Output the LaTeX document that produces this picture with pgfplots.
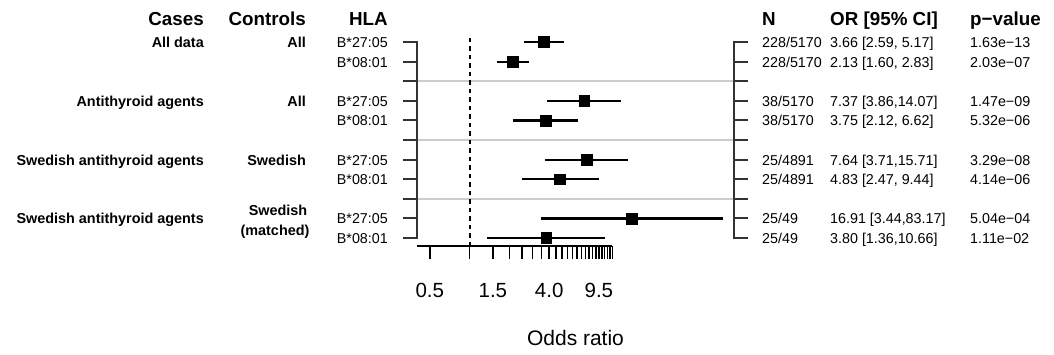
\documentclass[border=0pt]{standalone}
\usepackage{fontspec}
\setmainfont{Liberation Sans}
\usepackage{pgfplots}
\pgfplotsset{compat=1.18}

\definecolor{sepgray}{gray}{0.8}
\definecolor{framegray}{gray}{0.2}

% font sizes
\newcommand\hdr{\fontsize{18.8}{22}\selectfont\bfseries}
\newcommand\rowf{\fontsize{14.3}{16}\selectfont}
\newcommand\rowb{\fontsize{14.4}{16}\selectfont\bfseries}

% baseline of table row #1 (1 = top row), in pt below the top edge
\newcommand\rb[1]{{-(47.5pt+19.6pt*(#1-1))}}

\begin{document}
\begin{tikzpicture}
\useasboundingbox (0,0) rectangle (1054pt,-354pt);

\begin{axis}[
  at={(417pt,-246pt)}, anchor=south west,
  scale only axis, width=317pt, height=204pt,
  xmode=log, xmin=0.4, xmax=100,
  ymin=0.592, ymax=11,
  axis x line*=bottom, axis y line=none,
  x axis line style={draw=none},
  xtick={0.5,1,1.5,2,2.5,3,3.5,4,4.5,5,5.5,6,6.5,7,7.5,8,8.5,9,9.5,10,10.5,11,11.5,12},
  xticklabels={0.5,{},1.5,{},{},{},{},4.0,{},{},{},{},{},{},{},{},{},{},9.5,{},{},{},{},{}},
  minor xtick={},
  tick align=outside, major tick length=13pt,
  xtick style={line width=1.5pt, black},
  xticklabel style={font=\fontsize{20.5}{24}\selectfont, yshift=-21pt},
  xlabel={Odds ratio},
  xlabel style={font=\fontsize{21}{24}\selectfont, at={(axis description cs:0.5,0)}, anchor=base, yshift=-99pt},
  clip=false,
]
% group separators
\addplot[sepgray, line width=1.6pt] coordinates {(0.4,9) (100,9)};
\addplot[sepgray, line width=1.6pt] coordinates {(0.4,6) (100,6)};
\addplot[sepgray, line width=1.6pt] coordinates {(0.4,3) (100,3)};

% line of no effect
\addplot[black, line width=2pt, dash pattern=on 4.5pt off 4pt] coordinates {(1,0.592) (1,11.408)};

% x axis line
\addplot[black, line width=2pt] coordinates {(0.4,0.592) (12,0.592)};

% row brackets on both sides
\draw[framegray, line width=2pt]
  ([xshift=-14pt]axis cs:0.4,11) -- (axis cs:0.4,11) -- (axis cs:0.4,1) -- ([xshift=-14pt]axis cs:0.4,1);
\draw[framegray, line width=2pt]
  ([xshift=14pt]axis cs:100,11) -- (axis cs:100,11) -- (axis cs:100,1) -- ([xshift=14pt]axis cs:100,1);
\pgfplotsinvokeforeach{2,...,10}{
  \draw[framegray, line width=2pt] ([xshift=-14pt]axis cs:0.4,#1) -- (axis cs:0.4,#1);
  \draw[framegray, line width=2pt] ([xshift=14pt]axis cs:100,#1) -- (axis cs:100,#1);
}

% 95% confidence intervals
\addplot[black, line width=2.2pt] coordinates {(2.59,11) (5.17,11)};
\addplot[black, line width=2.2pt] coordinates {(1.60,10) (2.83,10)};
\addplot[black, line width=2.2pt] coordinates {(3.86,8) (14.07,8)};
\addplot[black, line width=2.2pt] coordinates {(2.12,7) (6.62,7)};
\addplot[black, line width=2.2pt] coordinates {(3.71,5) (15.71,5)};
\addplot[black, line width=2.2pt] coordinates {(2.47,4) (9.44,4)};
\addplot[black, line width=2.2pt] coordinates {(3.44,2) (83.17,2)};
\addplot[black, line width=2.2pt] coordinates {(1.36,1) (10.66,1)};

% odds ratios
\addplot[only marks, mark=square*, mark size=5.4pt, black] coordinates {
  (3.66,11) (2.13,10) (7.37,8) (3.75,7) (7.64,5) (4.83,4) (16.91,2) (3.80,1)};
\end{axis}

% column headers
\node[anchor=base east, inner sep=0] at (204pt,-25pt) {\hdr Cases};
\node[anchor=base east, inner sep=0] at (306pt,-25pt) {\hdr Controls};
\node[anchor=base east, inner sep=0] at (388pt,-25pt) {\hdr HLA};
\node[anchor=base west, inner sep=0] at (762pt,-25pt) {\hdr N};
\node[anchor=base west, inner sep=0] at (830pt,-25pt) {\hdr OR [95\% CI]};
\node[anchor=base west, inner sep=0] at (970pt,-25pt) {\hdr p−value};

% cases
\node[anchor=base east, inner sep=0] at (204pt,\rb{1}) {\rowb All data};
\node[anchor=base east, inner sep=0] at (204pt,\rb{4}) {\rowb Antithyroid agents};
\node[anchor=base east, inner sep=0] at (204pt,\rb{7}) {\rowb Swedish antithyroid agents};
\node[anchor=base east, inner sep=0] at (204pt,\rb{10}) {\rowb Swedish antithyroid agents};

% controls
\node[anchor=base east, inner sep=0] at (306pt,\rb{1}) {\rowb All};
\node[anchor=base east, inner sep=0] at (306pt,\rb{4}) {\rowb All};
\node[anchor=base east, inner sep=0] at (306pt,\rb{7}) {\rowb Swedish};
\node[anchor=base, inner sep=0] at (278pt,-215pt) {\rowb Swedish};
\node[anchor=base, inner sep=0] at (275pt,-235pt) {\rowb (matched)};

% alleles
\foreach \r/\a in {1/B*27:05,2/B*08:01,4/B*27:05,5/B*08:01,7/B*27:05,8/B*08:01,10/B*27:05,11/B*08:01}{
  \node[anchor=base east, inner sep=0] at (388pt,\rb{\r}) {\rowf \a};
}

% N, OR and p-value columns
\foreach \r/\n/\o/\p in {
  1/228\slash 5170/{3.66 [2.59, 5.17]}/1.63e−13,
  2/228\slash 5170/{2.13 [1.60, 2.83]}/2.03e−07,
  4/38\slash 5170/{7.37 [3.86,14.07]}/1.47e−09,
  5/38\slash 5170/{3.75 [2.12, 6.62]}/5.32e−06,
  7/25\slash 4891/{7.64 [3.71,15.71]}/3.29e−08,
  8/25\slash 4891/{4.83 [2.47, 9.44]}/4.14e−06,
  10/25\slash 49/{16.91 [3.44,83.17]}/5.04e−04,
  11/25\slash 49/{3.80 [1.36,10.66]}/1.11e−02}{
  \node[anchor=base west, inner sep=0] at (762pt,\rb{\r}) {\rowf \n};
  \node[anchor=base west, inner sep=0] at (830pt,\rb{\r}) {\rowf \o};
  \node[anchor=base west, inner sep=0] at (970pt,\rb{\r}) {\rowf \p};
}
\end{tikzpicture}
\end{document}
